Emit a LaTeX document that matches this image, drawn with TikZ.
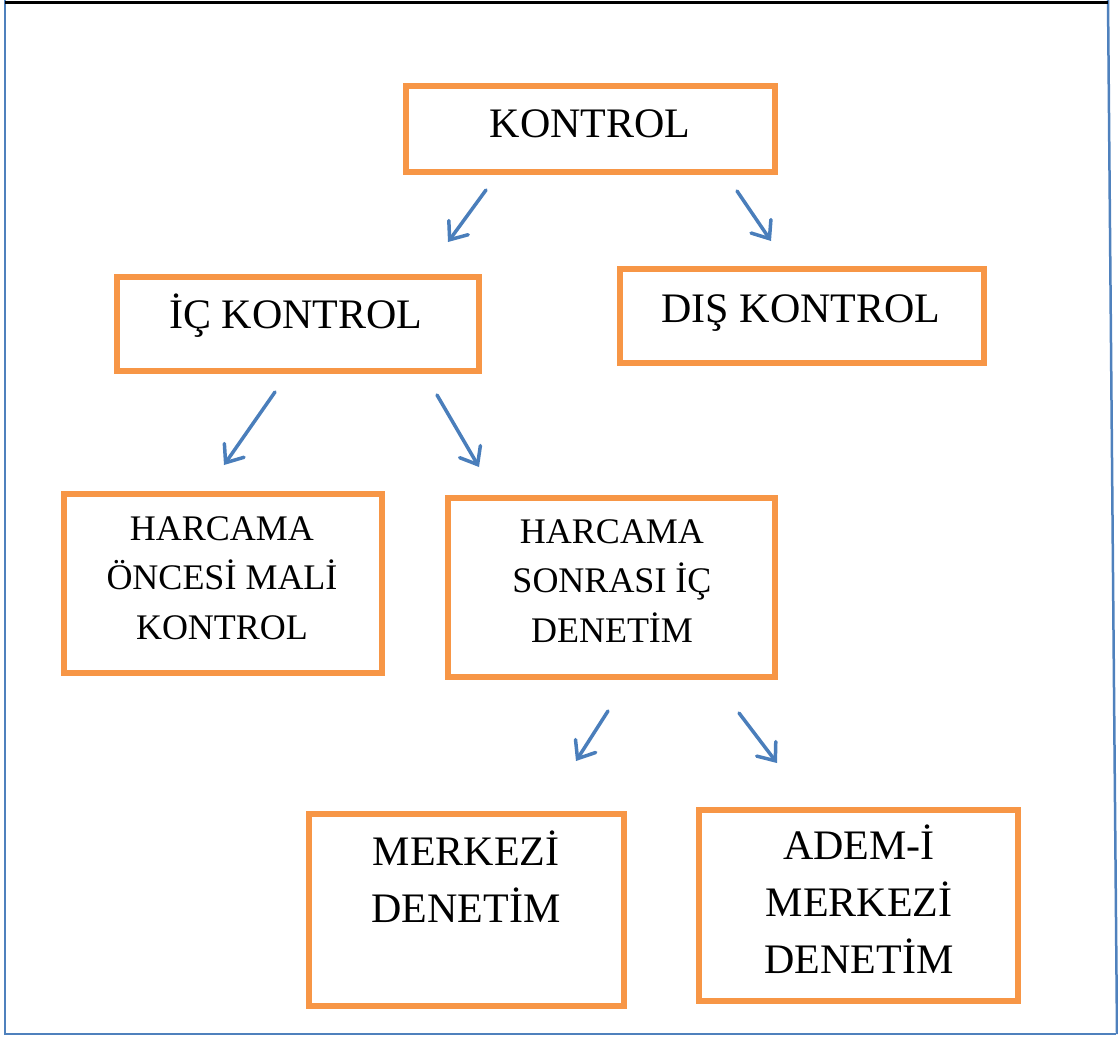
\documentclass[tikz,border=0pt]{standalone}
\usepackage{fontspec}
\setmainfont{Liberation Serif}
\usetikzlibrary{arrows.meta}
\definecolor{boxorange}{HTML}{F79646}
\definecolor{arrowblue}{HTML}{4A7EBB}
\definecolor{frameblue}{HTML}{4F81BD}
\tikzset{
  box/.style={draw=boxorange, line width=5.5pt, rectangle, inner sep=0pt},
  bigtxt/.style={font=\fontsize{42}{57}\selectfont, align=center, inner sep=0pt, anchor=base},
  midtxt/.style={font=\fontsize{36}{49.5}\selectfont, align=center, inner sep=0pt, anchor=base},
  arr/.style={draw=arrowblue, line width=3.5pt, line cap=round,
    -{Straight Barb[length=15pt,width=24pt,line cap=round]}},
}
\begin{document}
\begin{tikzpicture}[x=1pt, y=-1pt]
\useasboundingbox (0,0) rectangle (1118,1036);

% page frame
\draw[frameblue, line width=2.5pt] (5,0) -- (5,1034) -- (1116,1034);
\draw[frameblue, line width=2.5pt] (1108,0) -- (1117,1034);
\draw[black, line width=2.5pt] (5,2.5) -- (1108,2.5);

% boxes
\node[box, minimum width=369pt, minimum height=86pt]  (kontrol)  at (590.5,129) {};
\node[box, minimum width=362pt, minimum height=94pt]  (ic)       at (298,324) {};
\node[box, minimum width=364pt, minimum height=94pt]  (dis)      at (802,316) {};
\node[box, minimum width=318pt, minimum height=179pt] (oncesi)   at (223,583.5) {};
\node[box, minimum width=327pt, minimum height=179pt] (sonrasi)  at (611.5,587.5) {};
\node[box, minimum width=315pt, minimum height=192pt] (merkezi)  at (466.5,910) {};
\node[box, minimum width=319pt, minimum height=191pt] (ademi)    at (858.5,905.5) {};

% labels (base anchor = baseline of the last line)
\node[bigtxt] (kontrol-t) at (590,137) {KONTROL};
\node[bigtxt] (ic-t)      at (296,328) {İÇ KONTROL};
\node[bigtxt] (dis-t)     at (801,322) {DIŞ KONTROL};
\node[midtxt] (oncesi-t)  at (222,639) {HARCAMA\\ÖNCESİ MALİ\\KONTROL};
\node[midtxt] (sonrasi-t) at (612,642) {HARCAMA\\SONRASI İÇ\\DENETİM};
\node[bigtxt] (merkezi-t) at (466,922) {MERKEZİ\\DENETİM};
\node[bigtxt] (ademi-t)   at (859,973) {ADEM-İ\\MERKEZİ\\DENETİM};

% arrow end points
\coordinate (a1s) at (486,190); \coordinate (a1e) at (448,242);
\coordinate (a2s) at (737,191); \coordinate (a2e) at (771,241);
\coordinate (a3s) at (275,392); \coordinate (a3e) at (224,465);
\coordinate (a4s) at (437,395); \coordinate (a4e) at (479,467);
\coordinate (a5s) at (608,711); \coordinate (a5e) at (576,761);
\coordinate (a6s) at (739,713); \coordinate (a6e) at (777,763);

\draw[arr] (a1s) -- (a1e);
\draw[arr] (a2s) -- (a2e);
\draw[arr] (a3s) -- (a3e);
\draw[arr] (a4s) -- (a4e);
\draw[arr] (a5s) -- (a5e);
\draw[arr] (a6s) -- (a6e);
\end{tikzpicture}
\end{document}
